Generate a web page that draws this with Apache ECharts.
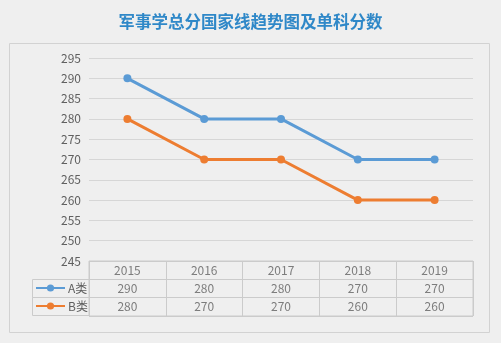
<!DOCTYPE html>
<html>
<head>
<meta charset="utf-8">
<script src="https://cdn.jsdelivr.net/npm/echarts@6/dist/echarts.min.js"></script>
<style>
  html, body { margin: 0; padding: 0; background: #efefef; }
  #chart { width: 501px; height: 343px; }
</style>
</head>
<body>
<div id="chart"></div>
<script>
// Categories, series values and tick range
const years = ['2015', '2016', '2017', '2018', '2019'];
const seriesNames = ['A类', 'B类'];
const valuesA = [290, 280, 280, 270, 270];
const valuesB = [280, 270, 270, 260, 260];
const yMin = 245, yMax = 295, yStep = 5;
const tableRows = ['年份', 'A类', 'B类'];

const textColor = '#5f5f5f';
const gridColor = '#d6d6d6';
const tableLine = '#cbcbcb';
const colorA = '#5b9bd5';
const colorB = '#ed7d31';
const font = '"Noto Sans CJK SC", "Open Sans", sans-serif';

// Cells of the data table under the plot: header row with years, then one row per series
const tableCells = [];
years.forEach((y, i) => {
  tableCells.push({ value: [y, tableRows[0]], text: y });
  tableCells.push({ value: [y, tableRows[1]], text: String(valuesA[i]) });
  tableCells.push({ value: [y, tableRows[2]], text: String(valuesB[i]) });
});

const chart = echarts.init(document.getElementById('chart'), null, { renderer: 'canvas' });

chart.setOption({
  backgroundColor: '#efefef',
  animation: false,
  title: {
    text: '军事学总分国家线趋势图及单科分数',
    left: 'center',
    top: 8,
    textStyle: { color: '#2f88c8', fontSize: 16.5, fontWeight: 'bold', fontFamily: font }
  },
  graphic: [
    // outer chart frame
    { type: 'rect', shape: { x: 9.5, y: 43.5, width: 480, height: 289 },
      style: { fill: 'none', stroke: '#d2d2d2', lineWidth: 1 }, z: -1 },
    // legend-key cells of the table
    { type: 'rect', shape: { x: 32.5, y: 279.5, width: 57, height: 18 },
      style: { fill: 'none', stroke: tableLine, lineWidth: 1 } },
    { type: 'rect', shape: { x: 32.5, y: 297.5, width: 57, height: 18 },
      style: { fill: 'none', stroke: tableLine, lineWidth: 1 } }
  ],
  legend: {
    data: seriesNames,
    orient: 'vertical',
    left: 35,
    top: 282,
    padding: 0,
    itemWidth: 29,
    itemHeight: 9,
    itemGap: 6,
    textStyle: { color: textColor, fontSize: 12, fontFamily: font, padding: [0, 0, 0, -2] }
  },
  grid: [
    { left: 89, right: 28, top: 58, bottom: 82 },
    { left: 89, right: 28, top: 261, height: 55, show: true, borderColor: tableLine, borderWidth: 1 }
  ],
  xAxis: [
    { type: 'category', gridIndex: 0, data: years, boundaryGap: true, show: false },
    { type: 'category', gridIndex: 1, data: years, boundaryGap: true,
      axisLabel: { show: false }, axisTick: { show: false },
      axisLine: { show: false },
      splitLine: { show: true, lineStyle: { color: tableLine } } }
  ],
  yAxis: [
    { type: 'value', gridIndex: 0, min: yMin, max: yMax, interval: yStep,
      axisLine: { show: false }, axisTick: { show: false },
      axisLabel: { color: textColor, fontSize: 12, margin: 8, fontFamily: font },
      splitLine: { lineStyle: { color: gridColor, width: 1 } } },
    { type: 'category', gridIndex: 1, data: tableRows, inverse: true,
      axisLabel: { show: false }, axisTick: { show: false }, axisLine: { show: false },
      splitLine: { show: true, lineStyle: { color: tableLine } } }
  ],
  series: [
    { name: seriesNames[0], type: 'line', xAxisIndex: 0, yAxisIndex: 0, data: valuesA,
      symbol: 'circle', symbolSize: 8, color: colorA,
      lineStyle: { width: 3, color: colorA }, itemStyle: { color: colorA } },
    { name: seriesNames[1], type: 'line', xAxisIndex: 0, yAxisIndex: 0, data: valuesB,
      symbol: 'circle', symbolSize: 8, color: colorB,
      lineStyle: { width: 3, color: colorB }, itemStyle: { color: colorB } },
    { name: 'table', type: 'scatter', xAxisIndex: 1, yAxisIndex: 1, silent: true,
      symbolSize: 1, itemStyle: { color: 'rgba(0,0,0,0)' },
      data: tableCells,
      label: { show: true, position: 'inside', color: textColor, fontSize: 12, fontFamily: font,
        formatter: p => p.data.text } }
  ]
});
</script>
</body>
</html>
